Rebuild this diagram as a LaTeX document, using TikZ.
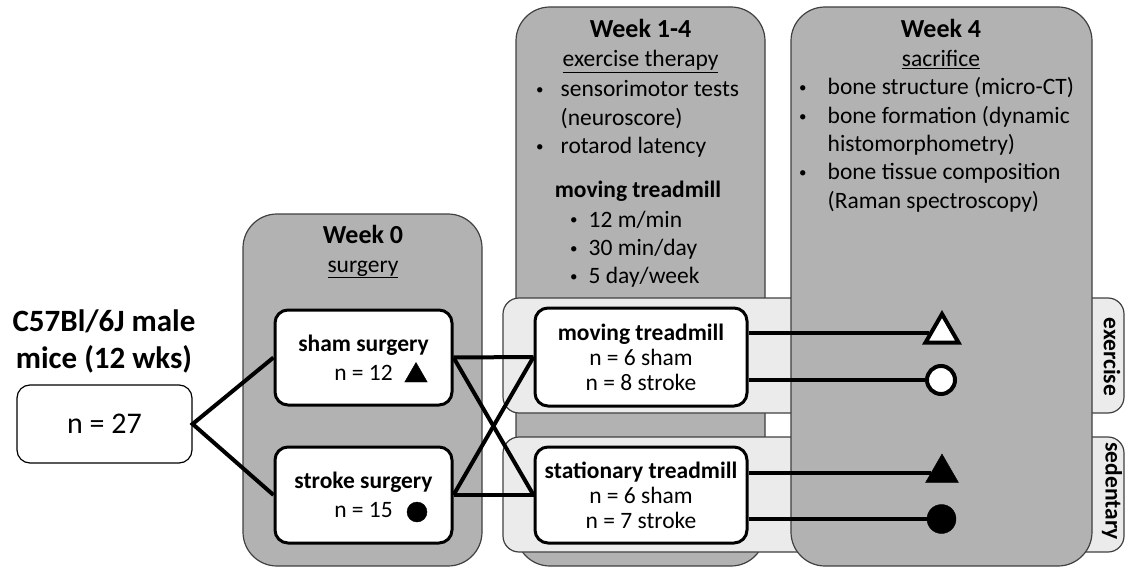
\documentclass[tikz,border=0pt]{standalone}
\usepackage{fontspec}
\setmainfont{Carlito}
\usetikzlibrary{shapes.geometric}
\newcommand\punto{\raisebox{2pt}{\fontsize{15}{15}\selectfont\textbullet}}

\begin{document}
\begin{tikzpicture}[
  x=1pt, y=-1pt,
  columna/.style={draw=black!75, fill=black!30, line width=1.2pt, rounded corners=34pt},
  banda/.style={draw=black!75, fill=black!8, line width=1.2pt, rounded corners=16pt,
                minimum width=621pt, minimum height=115pt},
  caja/.style={draw, fill=white, line width=3pt, rounded corners=13pt, align=center,
               inner sep=0pt, font=\fontsize{23.5}{29}\selectfont},
  cajacinta/.style={caja, font=\fontsize{23.5}{25}\selectfont,
                    minimum width=212pt},
  cabecera/.style={anchor=base, inner sep=0pt, font=\bfseries\fontsize{26}{30}\selectfont},
  subtitulo/.style={anchor=base, inner sep=0pt, font=\fontsize{23.5}{28.5}\selectfont},
  lista/.style={anchor=base west, inner sep=0pt, font=\fontsize{23.5}{28.3}\selectfont},
  pestana/.style={rotate=-90, inner sep=0pt, font=\bfseries\fontsize{23.5}{28}\selectfont},
  linea/.style={line width=4pt},
  triangulo/.style={regular polygon, regular polygon sides=3, draw, inner sep=0pt},
  circulo/.style={circle, draw, inner sep=0pt}
]
  \useasboundingbox (0,0) rectangle (1125,567);

  % columns and bands
  \node[columna, minimum width=239pt, minimum height=352pt] (wk0)  at (362.5,390) {};
  \node[columna, minimum width=249pt, minimum height=559pt] (wk14) at (640.5,286.5) {};
  \node[banda] (exband)  at (813.5,355.5) {};
  \node[banda] (sedband) at (813.5,494.5) {};
  \node[columna, minimum width=301pt, minimum height=559pt] (wk4)  at (941.5,286.5) {};
  \node[pestana] (extab)  at (1112,357) {exercise};
  \node[pestana] (sedtab) at (1112,491) {sedentary};

  % headers
  \node[cabecera]  (wk0t)  at (363,243) {Week 0};
  \node[subtitulo] (wk0s)  at (363,272) {\underline{surgery}};
  \node[cabecera]  (wk14t) at (640.5,38) {Week 1-4};
  \node[subtitulo] (wk14s) at (640.5,67) {\underline{exercise therapy}};
  \node[cabecera]  (wk4t)  at (941,38) {Week 4};
  \node[subtitulo] (wk4s)  at (941,67) {\underline{sacrifice}};

  % lists
  \node[lista] (tests) at (536,97) {\begin{tabular}[t]{@{}l@{\hspace{17pt}}l@{}}
    \punto & sensorimotor tests\\
           & (neuroscore)\\
    \punto & rotarod latency
  \end{tabular}};
  \node[subtitulo, font=\bfseries\fontsize{23.5}{28.5}\selectfont] (movt) at (638,197) {moving treadmill};
  \node[lista] (plan) at (570,227) {\begin{tabular}[t]{@{}l@{\hspace{11pt}}l@{}}
    \punto & 12 m/min\\
    \punto & 30 min/day\\
    \punto & 5 day/week
  \end{tabular}};
  \node[lista] (bone) at (799,95) {\begin{tabular}[t]{@{}l@{\hspace{21pt}}l@{}}
    \punto & bone structure (micro-CT)\\
    \punto & bone formation (dynamic\\
           & histomorphometry)\\
    \punto & bone tissue composition\\
           & (Raman spectroscopy)
  \end{tabular}};

  % mice
  \node[align=center, inner sep=0pt, font=\bfseries\fontsize{31}{37}\selectfont] (micet) at (104,341)
    {C57Bl/6J male\\mice (12 wks)};
  \node[caja, line width=1.2pt, minimum width=175pt, minimum height=78pt,
        font=\fontsize{30}{34}\selectfont] (mice) at (104.5,424) {n = 27};

  % groups
  \node[caja, minimum width=177pt, minimum height=95pt] (sham)   at (363.5,357.5)
    {\textbf{sham surgery}\\n = 12};
  \node[caja, minimum width=177pt, minimum height=96pt] (stroke) at (363.5,495)
    {\textbf{stroke surgery}\\n = 15};
  \node[triangulo, fill=black, minimum size=26pt] (shamsym)   at (416,375.5) {};
  \node[circulo, fill=black, minimum size=20pt]  (strokesym) at (417,512) {};

  \node[cajacinta, minimum height=98pt] (moving)     at (641,357)
    {\textbf{moving treadmill}\\n = 6 sham\\n = 8 stroke};
  \node[cajacinta, minimum height=96pt] (stationary) at (641,495)
    {\textbf{stationary treadmill}\\n = 6 sham\\n = 7 stroke};

  % end symbols
  \node[triangulo, fill=white, line width=4pt, minimum size=38pt] (exsham)    at (942,333) {};
  \node[circulo, fill=white, line width=4pt, minimum size=28pt]   (exstroke)  at (941,380) {};
  \node[triangulo, fill=black, minimum size=38pt]                  (sedsham)   at (942,473) {};
  \node[circulo, fill=black, minimum size=29pt]                    (sedstroke) at (941.5,519) {};

  % connectors
  \draw[linea] (sham.west) -- (mice.east) -- (stroke.west);
  \foreach \a in {sham,stroke}
    \foreach \b in {moving,stationary}
      \draw[linea] (\a.east) -- (\b.west);
  \draw[linea] (moving.east |- exsham) -- (exsham);
  \draw[linea] (moving.east |- exstroke) -- (exstroke);
  \draw[linea] (stationary.east |- sedsham) -- (sedsham);
  \draw[linea] (stationary.east |- sedstroke) -- (sedstroke);
\end{tikzpicture}
\end{document}
